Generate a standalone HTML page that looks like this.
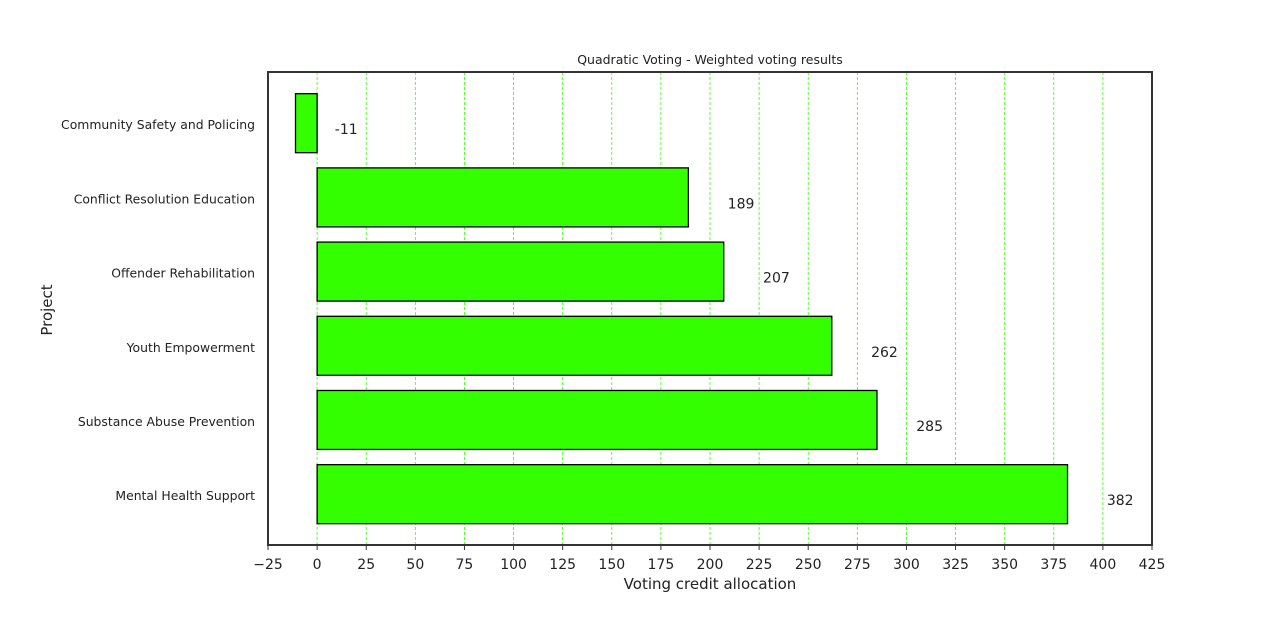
<!DOCTYPE html>
<html><head><meta charset="utf-8"><style>
body{margin:0;background:#fff;}
svg text{font-family:"DejaVu Sans","Liberation Sans",sans-serif;}
</style></head><body>
<svg id="chart" width="1280" height="612" xmlns="http://www.w3.org/2000/svg">
<rect width="1280" height="612" fill="#fff"/>
<text x="710" y="64" text-anchor="middle" font-size="12.5" fill="#222">Quadratic Voting - Weighted voting results</text>
<text x="710" y="589" text-anchor="middle" font-size="15" fill="#222">Voting credit allocation</text>
<text x="52" y="310" text-anchor="middle" font-size="15" fill="#222" transform="rotate(-90 52 310)">Project</text>
<g id="grid"></g><g id="bars"></g><g id="labels"></g><g id="xticks"></g><g id="yticks"></g>
<rect x="268" y="72" width="884" height="473" fill="none" stroke="#333" stroke-width="2"/>
</svg>
<script>
const categories=["Community Safety and Policing","Conflict Resolution Education","Offender Rehabilitation","Youth Empowerment","Substance Abuse Prevention","Mental Health Support"];
const values=[-11,189,207,262,285,382];
const xTicks=[-25,0,25,50,75,100,125,150,175,200,225,250,275,300,325,350,375,400,425];
const NS="http://www.w3.org/2000/svg";
const x0=268,x1=1152,yTop=72,yBot=545,xmin=-25,xmax=425;
function xs(v){return x0+(v-xmin)/(xmax-xmin)*(x1-x0);}
const step=(yBot-yTop)/(categories.length+0.375);
function yc(i){return yTop+step*(0.69+i);}
const bh=59;
function mk(t,a,p){const e=document.createElementNS(NS,t);for(const k in a)e.setAttribute(k,a[k]);p.appendChild(e);return e;}
const g=document.getElementById('grid'),b=document.getElementById('bars'),l=document.getElementById('labels'),xt=document.getElementById('xticks'),yt=document.getElementById('yticks');
xTicks.forEach(v=>{
 const X=xs(v);
 if(v>xmin&&v<xmax){const gl=mk('line',{x1:X,x2:X,y1:yTop,y2:yBot,stroke:'#33ff00','stroke-width':0.8,'stroke-dasharray':'3,2'},g);
 
 }
 const tk=mk('line',{x1:X,x2:X,y1:yBot,y2:yBot+5,stroke:'#333','stroke-width':1},xt);
 
 
 const t=mk('text',{x:X,y:569,'text-anchor':'middle','font-size':14,fill:'#222'},xt);t.textContent=(v<0?'\u2212'+(-v):v);
 
 
});
categories.forEach((c,i)=>{
 const v=values[i],Y=yc(i);
 const r=mk('rect',{x:Math.min(xs(0),xs(v)),y:Y-bh/2,width:Math.abs(xs(v)-xs(0)),height:bh,fill:'#33ff00',stroke:'#000','stroke-width':1.3},b);
 
 
 const t=mk('text',{x:xs(v+20),y:Y+11,'font-size':14,fill:'#222'},l);t.textContent=v;
 
 
 const ct=mk('text',{x:255,y:Y+6,'text-anchor':'end','font-size':12.4,fill:'#222'},yt);ct.textContent=c;
 
 
});
</script>
</body></html>
